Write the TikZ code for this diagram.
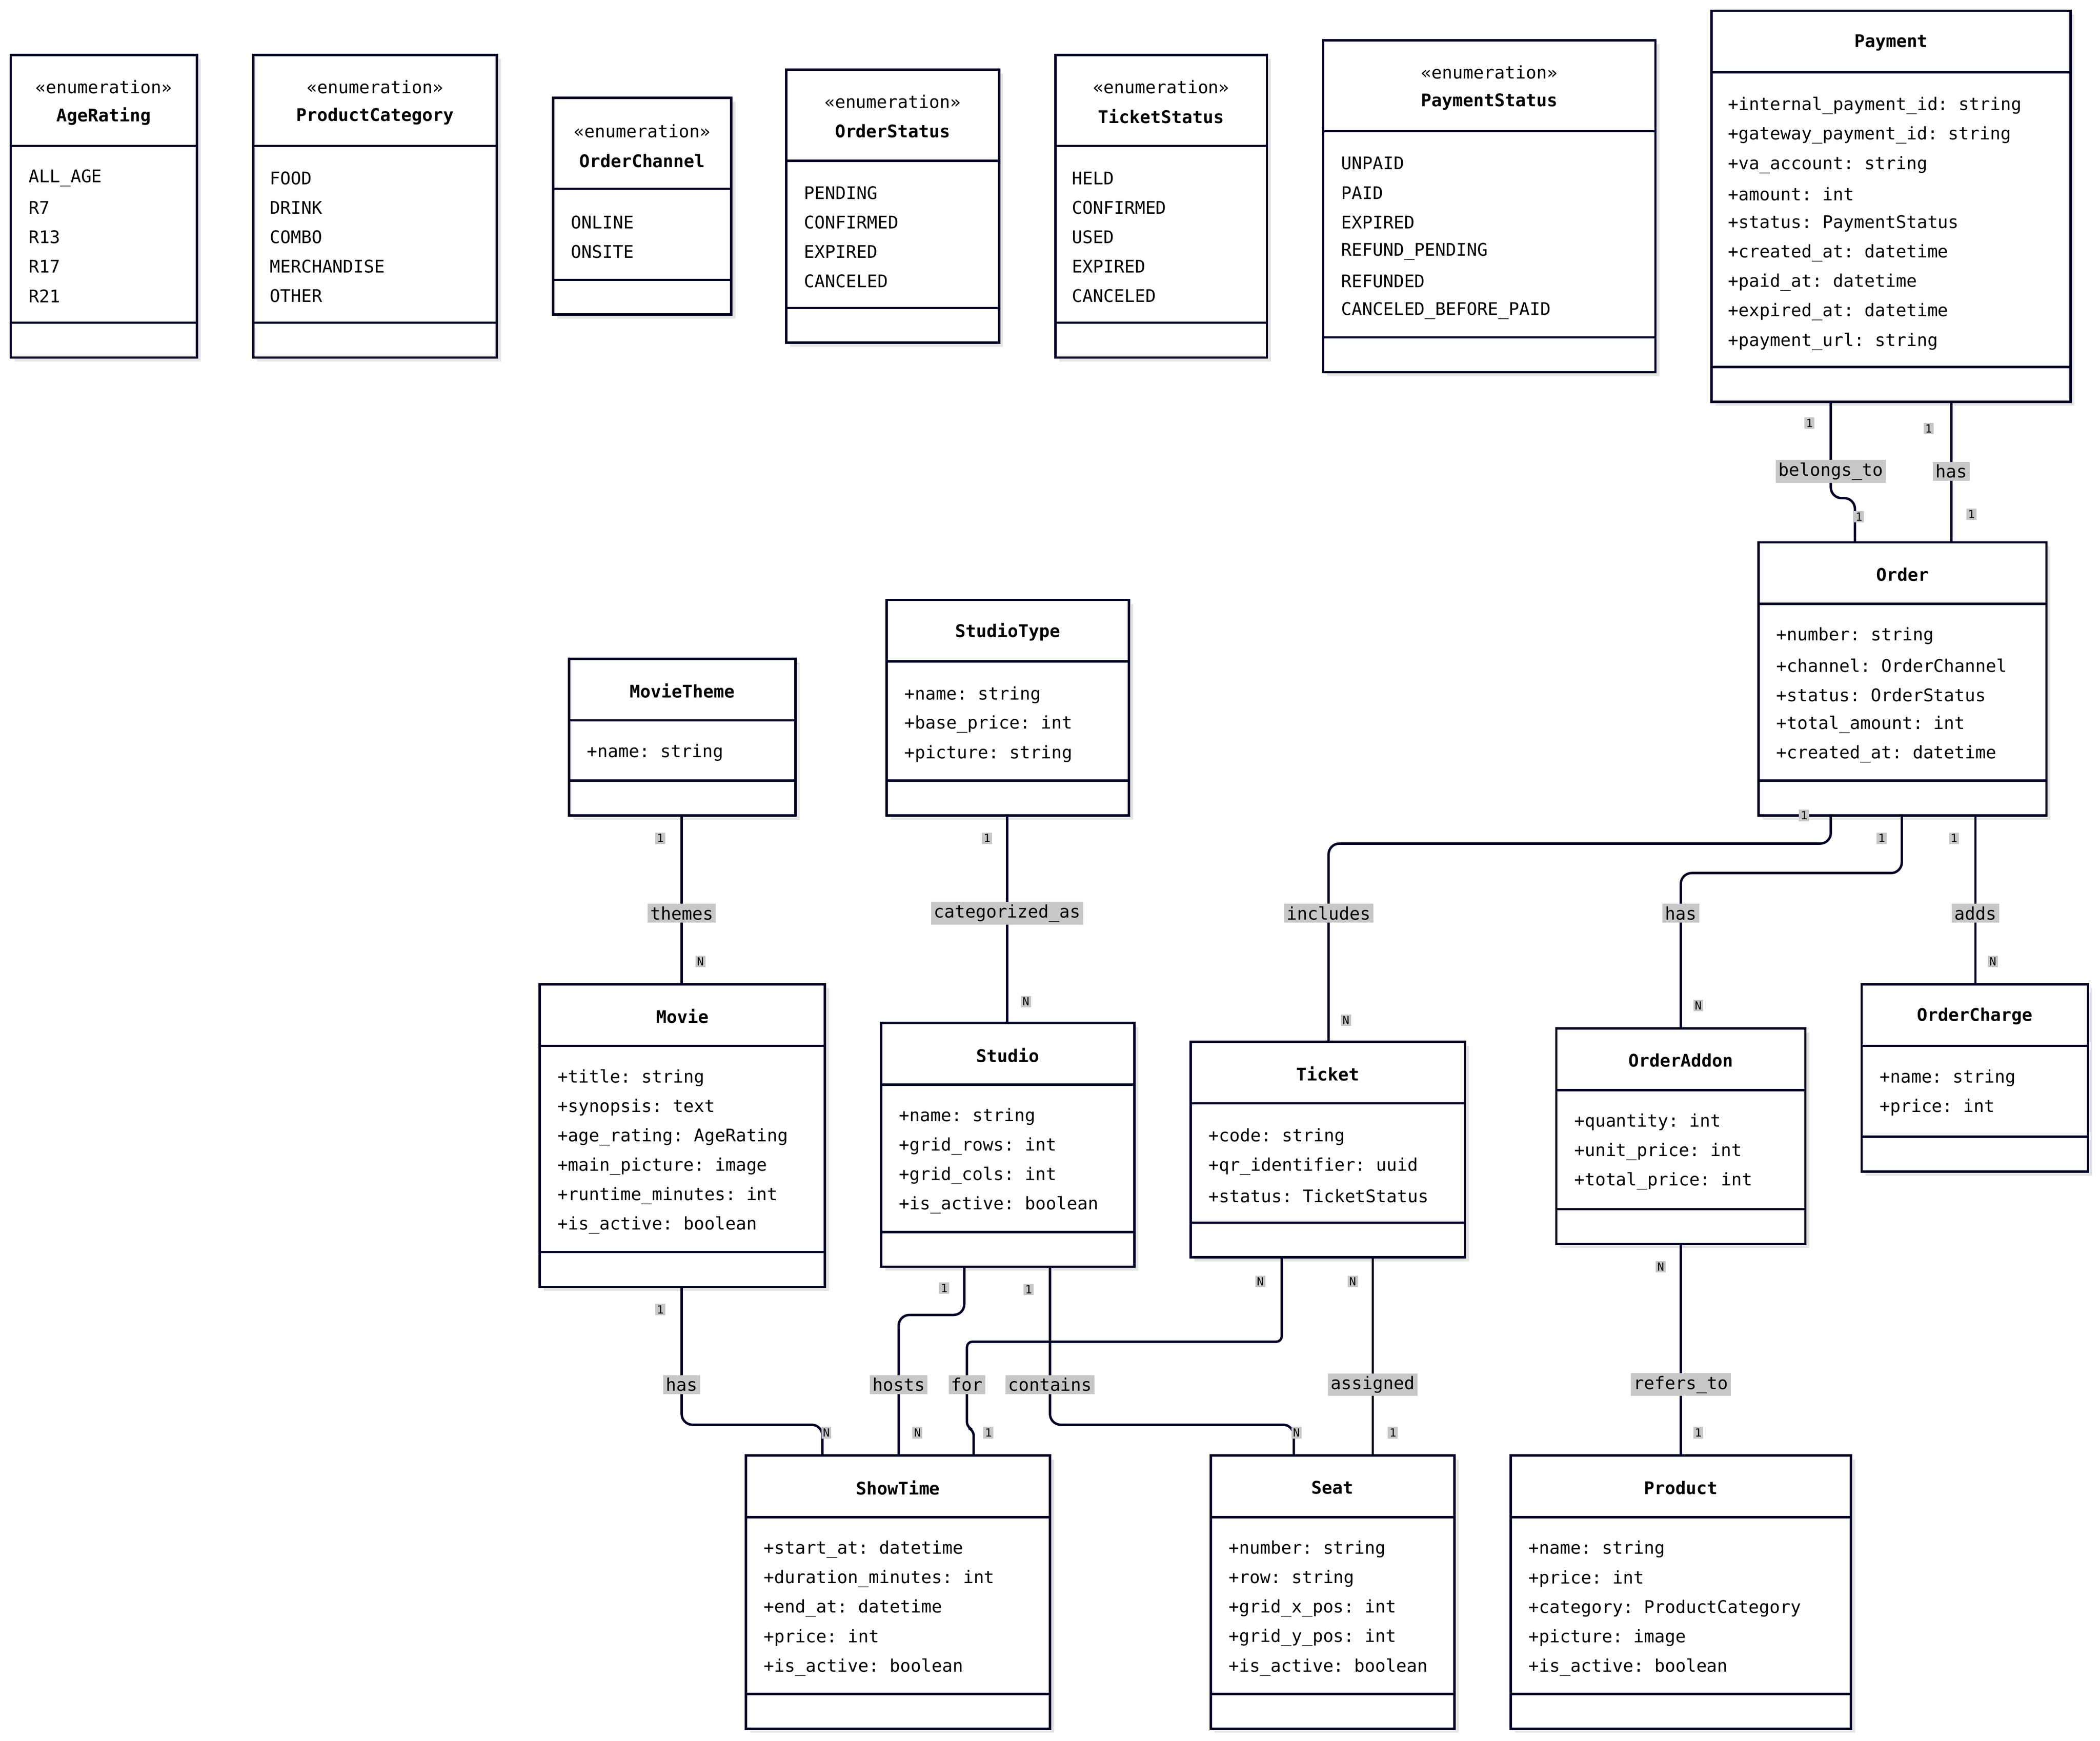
\documentclass[tikz,border=0pt]{standalone}
\usepackage{fontspec}
\setmainfont{DejaVu Sans Mono}
\begin{document}
\frenchspacing
\catcode`\_=12
\begin{tikzpicture}[x=0.5pt,y=-0.5pt,
  box/.style={draw=black!85!blue,line width=0.9pt,fill=white,inner sep=0,outer sep=0,anchor=north west},
  shd/.style={fill=black!10},
  ttl/.style={font=\fontsize{6.5}{8}\selectfont\bfseries,inner sep=0},
  st/.style={font=\fontsize{6.5}{8}\selectfont,inner sep=0},
  attr/.style={font=\fontsize{6.5}{8}\selectfont,inner sep=0,anchor=west},
  con/.style={line width=0.9pt,draw=black!85!blue,rounded corners=4pt},
  lbl/.style={fill=black!22,font=\fontsize{6.5}{8}\selectfont,inner sep=1pt},
  mul/.style={fill=black!22,font=\fontsize{4.2}{5}\selectfont,inner sep=0.6pt}]
\useasboundingbox (0,0) rectangle (1568,1300);
\newcommand\cls[7]{%
  \fill[shd] (#2+3,#3+3) rectangle (#4+3,#5+3);
  \node[box,minimum width={(#4-#2)*0.5pt},minimum height={(#5-#3)*0.5pt}] (#1) at (#2,#3) {};
  \draw[line width=0.9pt,black!85!blue] (#2,#6) -- (#4,#6) (#2,#7) -- (#4,#7);}
\newcommand\attrs[4]{% name, x, y0, list
  \foreach \t [count=\i] in {#4} \node[attr] (#1a\i) at (#2,{#3+22*(\i-1)}) {\t};}
% enumerations
\cls{agerating}{8}{41}{147}{267}{109}{241}
\node[st] (agerating-s) at (77.5,65) {«enumeration»};
\node[ttl] (agerating-t) at (77.5,87) {AgeRating};
\attrs{agerating}{21}{133}{ALL_AGE,R7,R13,R17,R21}
\cls{prodcat}{189}{41}{371}{267}{109}{241}
\node[st] (prodcat-s) at (280,65) {«enumeration»};
\node[ttl] (prodcat-t) at (280,87) {ProductCategory};
\attrs{prodcat}{201}{133}{FOOD,DRINK,COMBO,MERCHANDISE,OTHER}
\cls{ochan}{413}{73}{546}{235}{141}{209}
\node[st] (ochan-s) at (479.5,98) {«enumeration»};
\node[ttl] (ochan-t) at (479.5,120) {OrderChannel};
\attrs{ochan}{426}{166}{ONLINE,ONSITE}
\cls{ostat}{587}{52}{746}{256}{120}{230}
\node[st] (ostat-s) at (666.5,76) {«enumeration»};
\node[ttl] (ostat-t) at (666.5,98) {OrderStatus};
\attrs{ostat}{600}{144}{PENDING,CONFIRMED,EXPIRED,CANCELED}
\cls{tstat}{788}{41}{946}{267}{109}{241}
\node[st] (tstat-s) at (867,65) {«enumeration»};
\node[ttl] (tstat-t) at (867,87) {TicketStatus};
\attrs{tstat}{800}{133}{HELD,CONFIRMED,USED,EXPIRED,CANCELED}
\cls{pstat}{988}{30}{1236}{278}{98}{252}
\node[st] (pstat-s) at (1112,54) {«enumeration»};
\node[ttl] (pstat-t) at (1112,76) {PaymentStatus};
\attrs{pstat}{1001}{122}{UNPAID,PAID,EXPIRED,REFUND_PENDING,REFUNDED,CANCELED_BEFORE_PAID}
% classes
\cls{payment}{1278}{8}{1546}{300}{54}{274}
\node[ttl] (payment-t) at (1412,32) {Payment};
\attrs{payment}{1290}{79}{+internal_payment_id: string,+gateway_payment_id: string,+va_account: string,+amount: int,+status: PaymentStatus,+created_at: datetime,+paid_at: datetime,+expired_at: datetime,+payment_url: string}
\cls{order}{1313}{405}{1528}{609}{451}{583}
\node[ttl] (order-t) at (1420.5,429) {Order};
\attrs{order}{1326}{475}{+number: string,+channel: OrderChannel,+status: OrderStatus,+total_amount: int,+created_at: datetime}
\cls{mtheme}{425}{492}{594}{609}{538}{583}
\node[ttl] (mtheme-t) at (509.5,516) {MovieTheme};
\attrs{mtheme}{438}{562}{+name: string}
\cls{stype}{662}{448}{843}{609}{494}{583}
\node[ttl] (stype-t) at (752.5,472) {StudioType};
\attrs{stype}{675}{519}{+name: string,+base_price: int,+picture: string}
\cls{movie}{403}{735}{616}{961}{781}{935}
\node[ttl] (movie-t) at (509.5,759) {Movie};
\attrs{movie}{416}{805}{+title: string,+synopsis: text,+age_rating: AgeRating,+main_picture: image,+runtime_minutes: int,+is_active: boolean}
\cls{studio}{658}{764}{847}{946}{810}{920}
\node[ttl] (studio-t) at (752.5,788) {Studio};
\attrs{studio}{671}{834}{+name: string,+grid_rows: int,+grid_cols: int,+is_active: boolean}
\cls{ticket}{889}{778}{1094}{939}{824}{913}
\node[ttl] (ticket-t) at (991.5,802) {Ticket};
\attrs{ticket}{902}{849}{+code: string,+qr_identifier: uuid,+status: TicketStatus}
\cls{oaddon}{1162}{768}{1348}{929}{814}{903}
\node[ttl] (oaddon-t) at (1255,792) {OrderAddon};
\attrs{oaddon}{1175}{838}{+quantity: int,+unit_price: int,+total_price: int}
\cls{ocharge}{1390}{735}{1559}{875}{781}{849}
\node[ttl] (ocharge-t) at (1474.5,759) {OrderCharge};
\attrs{ocharge}{1403}{805}{+name: string,+price: int}
\cls{showtime}{557}{1087}{784}{1291}{1133}{1265}
\node[ttl] (showtime-t) at (670.5,1111) {ShowTime};
\attrs{showtime}{570}{1157}{+start_at: datetime,+duration_minutes: int,+end_at: datetime,+price: int,+is_active: boolean}
\cls{seat}{904}{1087}{1086}{1291}{1133}{1265}
\node[ttl] (seat-t) at (995,1111) {Seat};
\attrs{seat}{917}{1157}{+number: string,+row: string,+grid_x_pos: int,+grid_y_pos: int,+is_active: boolean}
\cls{product}{1128}{1087}{1382}{1291}{1133}{1265}
\node[ttl] (product-t) at (1255,1111) {Product};
\attrs{product}{1141}{1157}{+name: string,+price: int,+category: ProductCategory,+picture: image,+is_active: boolean}
% connectors
\draw[con] (payment.south -| 1367,0) -- (1367,372) -- (1385,372) -- (order.north -| 1385,0);
\node[lbl] (l1) at (1367,352) {belongs_to};
\node[mul] (m1a) at (1351,316) {1}; \node[mul] (m1b) at (1388,386) {1};
\draw[con] (payment.south -| 1457,0) -- (order.north -| 1457,0);
\node[lbl] (l2) at (1457,352) {has};
\node[mul] (m2a) at (1440,320) {1}; \node[mul] (m2b) at (1472,384) {1};
\draw[con] (order.south -| 1367,0) -- (1367,630) -- (992,630) -- (ticket.north -| 992,0);
\node[lbl] (l3) at (992,682) {includes};
\node[mul] (m3a) at (1347,609) {1}; \node[mul] (m3b) at (1005,762) {N};
\draw[con] (order.south -| 1420,0) -- (1420,652) -- (1255,652) -- (oaddon.north -| 1255,0);
\node[lbl] (l4) at (1255,682) {has};
\node[mul] (m4a) at (1405,626) {1}; \node[mul] (m4b) at (1268,751) {N};
\draw[con] (order.south -| 1475,0) -- (ocharge.north -| 1475,0);
\node[lbl] (l5) at (1475,682) {adds};
\node[mul] (m5a) at (1459,626) {1}; \node[mul] (m5b) at (1488,718) {N};
\draw[con] (mtheme.south -| 509,0) -- (movie.north -| 509,0);
\node[lbl] (l6) at (509,682) {themes};
\node[mul] (m6a) at (493,626) {1}; \node[mul] (m6b) at (523,718) {N};
\draw[con] (stype.south -| 752,0) -- (studio.north -| 752,0);
\node[lbl] (l7) at (752,682) {categorized_as};
\node[mul] (m7a) at (737,626) {1}; \node[mul] (m7b) at (766,748) {N};
\draw[con] (movie.south -| 509,0) -- (509,1064) -- (614,1064) -- (showtime.north -| 614,0);
\node[lbl] (l8) at (509,1034) {has};
\node[mul] (m8a) at (493,978) {1}; \node[mul] (m8b) at (617,1070) {N};
\draw[con] (studio.south -| 720,0) -- (720,982) -- (671,982) -- (showtime.north -| 671,0);
\node[lbl] (l9) at (671,1034) {hosts};
\node[mul] (m9a) at (705,962) {1}; \node[mul] (m9b) at (685,1070) {N};
\draw[con,rounded corners=2pt] (ticket.south -| 957,0) -- (957,1002) -- (722,1002) -- (722,1066) -- (727,1068) -- (showtime.north -| 727,0);
\node[lbl] (l10) at (722,1034) {for};
\node[mul] (m10a) at (941,957) {N}; \node[mul] (m10b) at (738,1070) {1};
\draw[con] (studio.south -| 784,0) -- (784,1064) -- (966,1064) -- (seat.north -| 966,0);
\node[lbl] (l11) at (784,1034) {contains};
\node[mul] (m11a) at (768,963) {1}; \node[mul] (m11b) at (968,1070) {N};
\draw[con] (ticket.south -| 1025,0) -- (seat.north -| 1025,0);
\node[lbl] (l12) at (1025,1034) {assigned};
\node[mul] (m12a) at (1010,957) {N}; \node[mul] (m12b) at (1040,1070) {1};
\draw[con] (oaddon.south -| 1255,0) -- (product.north -| 1255,0);
\node[lbl] (l13) at (1255,1034) {refers_to};
\node[mul] (m13a) at (1240,946) {N}; \node[mul] (m13b) at (1268,1070) {1};
\end{tikzpicture}
\end{document}
